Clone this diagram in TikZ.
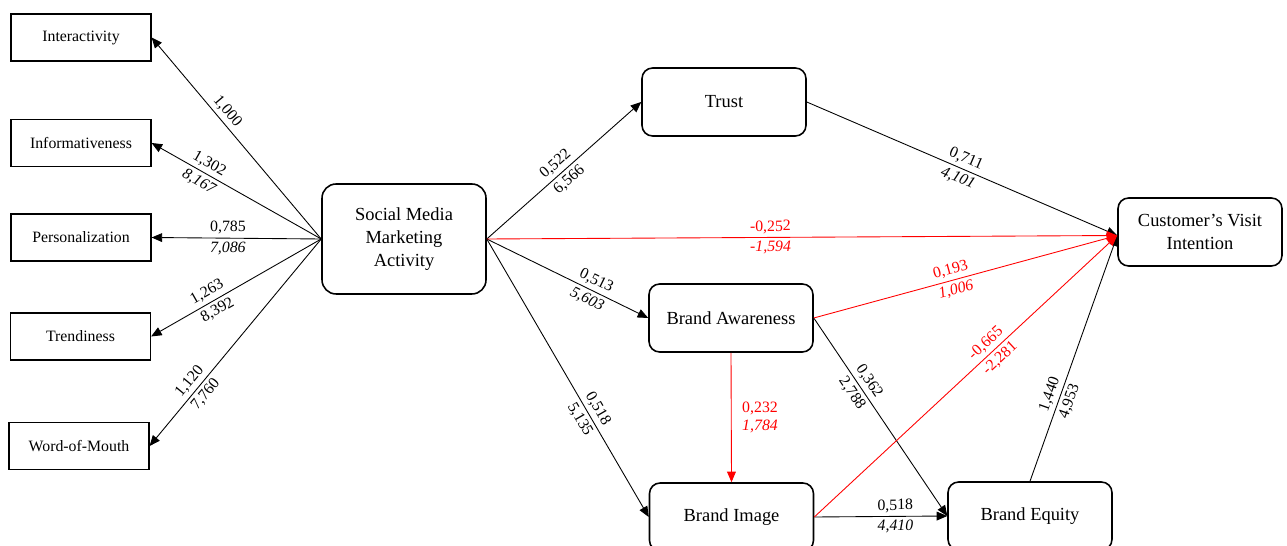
\documentclass[tikz,border=0pt]{standalone}
\usepackage{fontspec}
\setmainfont{Liberation Serif}
\usetikzlibrary{arrows.meta}
\tikzset{indic/.style={draw,line width=.7pt,minimum width=2.8cm,minimum height=.94cm,inner sep=0pt,
                       font=\fontsize{9}{11}\selectfont},
         latent/.style={draw,line width=.9pt,rounded corners=6pt,minimum width=3.28cm,minimum height=1.36cm,
                        inner sep=0pt,align=center,font=\fontsize{10.5}{13}\selectfont},
         link/.style={line width=.5pt,-{Triangle[length=6pt,width=5pt]}},
         nslink/.style={link,red},
         lab/.style={sloped,inner sep=2pt,font=\fontsize{9}{10}\selectfont}
}
\begin{document}
\begin{tikzpicture}[x=0.02cm,y=-0.02cm]
  \useasboundingbox (0,0) rectangle (1287,546);
  % indicators
  \node[indic] (inter) at (81,37.5) {Interactivity};
  \node[indic] (info)  at (81,143) {Informativeness};
  \node[indic] (pers)  at (81,237.5) {Personalization};
  \node[indic] (trend) at (80.5,336.5) {Trendiness};
  \node[indic] (wom)   at (79,446) {Word-of-Mouth};
  % constructs
  \node[latent,minimum height=2.2cm,rounded corners=8pt] (smma) at (404,239) {Social Media\\Marketing\\Activity};
  \node[latent] (trust) at (724,102) {Trust};
  \node[latent] (ba)    at (731,318) {Brand Awareness};
  \node[latent] (bi)    at (731.5,517) {Brand Image};
  \node[latent] (be)    at (1030,516) {Brand Equity};
  \node[latent] (cvi)   at (1200,232) {Customer’s Visit\\Intention};
  \coordinate (cin) at ([yshift=-0.07cm]cvi.west);
  % measurement
  \draw[link](smma.west)--(inter.east) node[lab,pos=.6,above]{1,000};
  \draw[link](smma.west)--(info.east) node[lab,pos=.69,above]{1,302} node[lab,pos=.69,below]{\textit{8,167}};
  \draw[link](smma.west)--(pers.east) node[lab,pos=.55,above]{0,785} node[lab,pos=.55,below]{\textit{7,086}};
  \draw[link](smma.west)--(trend.east) node[lab,pos=.64,above]{1,263} node[lab,pos=.64,below]{8,392};
  \draw[link](smma.west)--(wom.east) node[lab,pos=.72,above]{1,120} node[lab,pos=.72,below]{7,760};
  % structural
  \draw[link](smma.east)--(trust.west) node[lab,pos=.49,above]{0,522} node[lab,pos=.49,below]{6,566};
  \draw[link](smma.east)--(ba.west) node[lab,pos=.65,above]{0,513} node[lab,pos=.65,below]{\textit{5,603}};
  \draw[link](smma.east)--(bi.west) node[lab,pos=.63,above]{0,518} node[lab,pos=.63,below]{5,135};
  \draw[link](trust.east)--(cin) node[lab,pos=.5,above]{0,711} node[lab,pos=.5,below]{\textit{4,101}};
  \draw[link](ba.east)--(be.west) node[lab,pos=.35,above]{0,362} node[lab,pos=.35,below]{2,788};
  \draw[link](bi.east)--(be.west) node[lab,pos=.61,above]{0,518} node[lab,pos=.61,below]{\textit{4,410}};
  \draw[link](be.north)--(cin) node[lab,pos=.34,above]{1,440} node[lab,pos=.34,below]{4,953};
  \draw[nslink](smma.east)--(cin) node[lab,pos=.45,above]{-0,252} node[lab,pos=.45,below]{\textit{-1,594}};
  \draw[nslink](ba.east)--(cin) node[lab,pos=.46,above]{0,193} node[lab,pos=.46,below]{\textit{1,006}};
  \draw[nslink](bi.east)--(cin) node[lab,pos=.59,above]{-0,665} node[lab,pos=.59,below]{-2,281};
  \draw[nslink](ba.south)--(bi.north) node[pos=.5,right,align=left,inner sep=6pt,
       font=\fontsize{9}{10}\selectfont]{0,232\\\textit{1,784}};
\end{tikzpicture}
\end{document}
